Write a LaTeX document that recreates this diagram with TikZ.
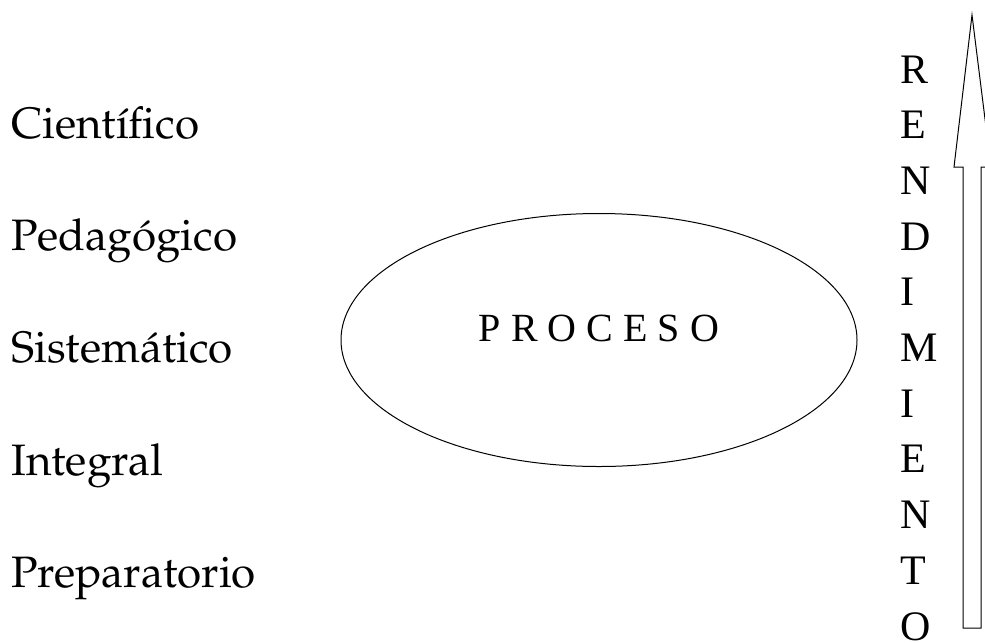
\documentclass[tikz,border=0pt]{standalone}
\usepackage[T1]{fontenc}
\usepackage{fontspec}
\newfontfamily\timesfont{Liberation Serif}
\newcommand{\pagfont}{\fontencoding{T1}\fontfamily{ppl}\selectfont}
\usetikzlibrary{shapes.geometric}
\tikzset{
	x=1pt, y=-1pt,
	aspecto/.style={anchor=base west, inner sep=0pt, font=\pagfont\fontsize{44}{52}\selectfont},
	letra/.style={anchor=base west, inner sep=0pt, font=\timesfont\fontsize{42}{48}\selectfont}
}

\begin{document}
\begin{tikzpicture}
			\useasboundingbox (0,0) rectangle (985,643);
			\node[aspecto] (cientifico) at (11,138) {Cient\'{\i}fico};
			\node[aspecto] (pedagogico) at (11,250) {Pedag\'ogico};
			\node[aspecto] (sistematico) at (11,362) {Sistem\'atico};
			\node[aspecto] (integral) at (11,475) {Integral};
			\node[aspecto] (preparatorio) at (11,587) {Preparatorio};
			\node[draw, ellipse, line width=1pt, minimum width=516, minimum height=253] (proceso) at (599,340) {};
			\node[letra, anchor=base, font=\timesfont\fontsize{40}{48}\selectfont] (titulo) at (599,341) {P R O C E S O};
			\foreach \l [count=\i from 0] in {R,E,N,D,I,M,I,E,N,T,O}
				\node[letra] (letra\i) at (900,83+55.7*\i) {\l};
			\draw [line width=1pt, line join=miter] (963,628) -- (963,167) -- (954,167) -- (972,15) -- (991,167) -- (981,167) -- (981,628) -- cycle;
		\end{tikzpicture}
\end{document}
